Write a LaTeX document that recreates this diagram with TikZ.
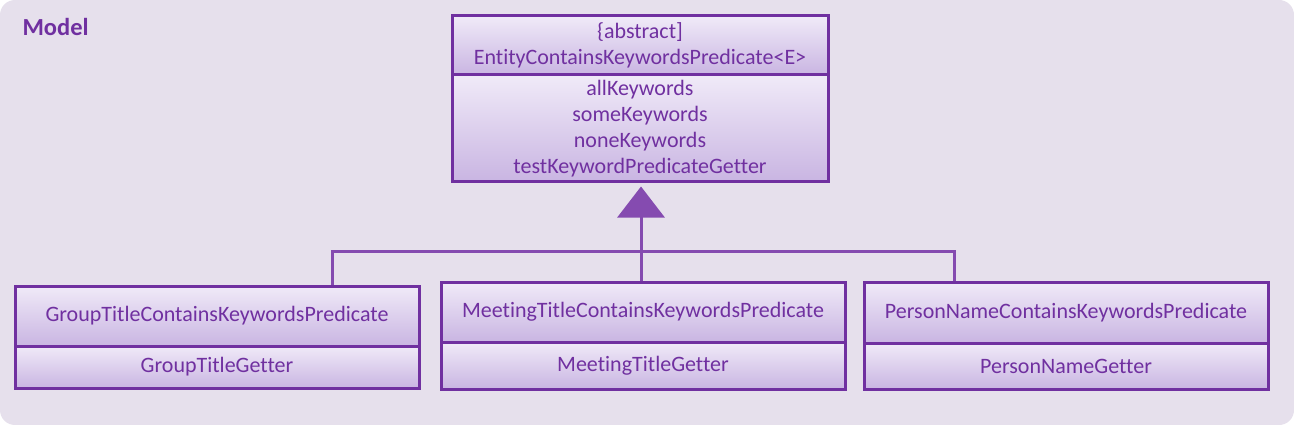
\documentclass[tikz,border=0pt]{standalone}
\usepackage{fontspec}
\setmainfont{Carlito}[Ligatures=NoCommon]
\usetikzlibrary{arrows.meta}
\definecolor{modelbg}{HTML}{E6E0EC}
\definecolor{umlline}{HTML}{7030A0}
\definecolor{umllink}{HTML}{854BB0}
\definecolor{umltop}{HTML}{F0EAF8}
\definecolor{umlbot}{HTML}{C9B5E2}
\begin{document}
\begin{tikzpicture}[x=1pt,y=-1pt,
  part/.style={draw=umlline,line width=3pt,top color=umltop,bottom color=umlbot,
    text=umlline,align=center,inner sep=0pt,font=\fontsize{22}{26}\selectfont},
  link/.style={draw=umllink,line width=3pt}]
\fill[white] (0,0) rectangle (1294,425);
\fill[modelbg,rounded corners=15pt] (0,0) rectangle (1294,425);
\node[text=umlline,font=\fontsize{24.5}{28}\selectfont\bfseries,anchor=west] (model) at (19,27) {Model};
% abstract class
\node[part,minimum width=376pt,minimum height=107pt] (topbody) at (640,128.5)
  {allKeywords\\someKeywords\\noneKeywords\\testKeywordPredicateGetter};
\node[part,minimum width=376pt,minimum height=59pt] (tophead) at (640,45.5)
  {\{abstract]\\EntityContainsKeywordsPredicate<E>};
% subclasses
\node[part,minimum width=404pt,minimum height=60pt] (grouphead) at (217,316) {GroupTitleContainsKeywordsPredicate};
\node[part,minimum width=404pt,minimum height=42pt] (groupbody) at (217,367) {GroupTitleGetter};
\node[part,minimum width=404pt,minimum height=60pt] (meethead) at (643,312) {MeetingTitleContainsKeywordsPredicate};
\node[part,minimum width=404pt,minimum height=47pt] (meetbody) at (643,365.5) {MeetingTitleGetter};
\node[part,minimum width=404pt,minimum height=61pt] (personhead) at (1066,312.5) {PersonNameContainsKeywordsPredicate};
\node[part,minimum width=404pt,minimum height=46pt] (personbody) at (1066,366) {PersonNameGetter};
% inheritance
\coordinate (bus) at (641,251);
\draw[link,-{Triangle[width=47pt,length=31pt]}] ([xshift=-2pt]meethead.north) -- ([yshift=-3pt,xshift=1pt]topbody.south);
\draw[link] ([xshift=115pt]grouphead.north) |- (bus);
\draw[link] ([xshift=-112pt]personhead.north) |- (bus);
\end{tikzpicture}
\end{document}
